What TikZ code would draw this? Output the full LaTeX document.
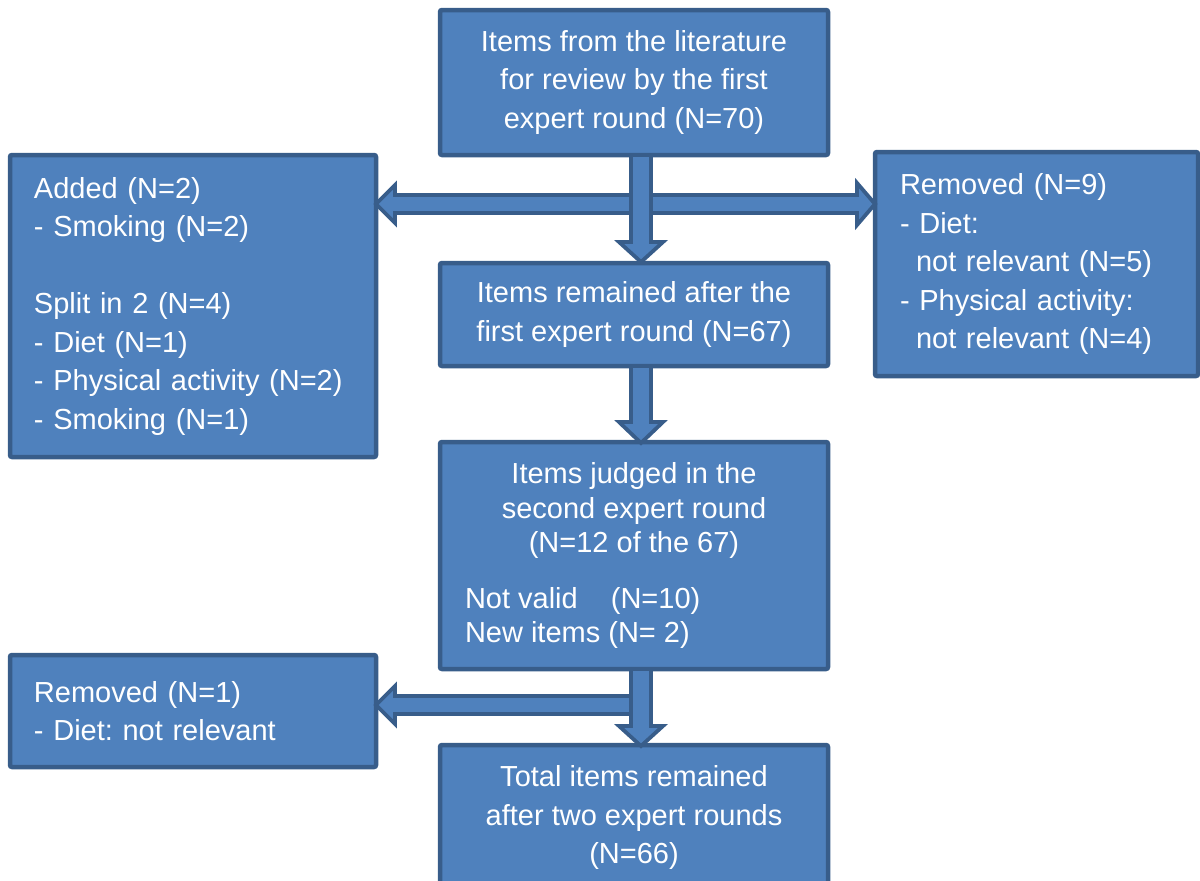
\documentclass[tikz,border=0pt]{standalone}
\usepackage{fontspec}
\setmainfont{Liberation Sans}
\usetikzlibrary{calc}
\definecolor{boxfill}{HTML}{4F81BD}
\definecolor{boxline}{HTML}{385D8A}
\frenchspacing
\begin{document}
\begin{tikzpicture}[x=1pt,y=-1pt,
  box/.style={draw=boxline, fill=boxfill, line width=4.5pt, rounded corners=2pt,
    text=white, font=\fontsize{29}{38.5}\selectfont, inner sep=0pt, outer sep=0pt, align=center},
  blockarrow/.style={draw=boxline, fill=boxfill, line width=3.8pt, line join=miter}]
\useasboundingbox (0,0) rectangle (1200,881);
\clip (0,0) rectangle (1200,881);

% boxes
\node[box, minimum width=388pt, minimum height=145pt] (lit) at (634,82.5)
  {Items from the literature\\for review by the first\\expert round (N=70)};
\node[box, minimum width=366pt, minimum height=302pt, text width=318pt, align=left] (add) at (193,306)
  {Added (N=2)\\- Smoking (N=2)\\[38.5pt]Split in 2 (N=4)\\- Diet (N=1)\\- Physical activity (N=2)\\- Smoking (N=1)};
\node[box, minimum width=323pt, minimum height=224pt, text width=273pt, align=left] (rem9) at (1036.5,264)
  {Removed (N=9)\\- Diet:\\\hspace*{16pt}not relevant (N=5)\\- Physical activity:\\\hspace*{16pt}not relevant (N=4)};
\node[box, minimum width=388pt, minimum height=103pt] (rem) at (634,314.5)
  {Items remained after the\\first expert round (N=67)};
\node[box, minimum width=388pt, minimum height=227pt, text width=338pt, align=none,
  font=\fontsize{29}{34.5}\selectfont] (judged) at (634,555.5)
  {{\centering Items judged in the\\second expert round\\(N=12 of the 67)\par}\vspace{21pt}%
   {\raggedright Not valid\hspace{25pt} (N=10)\\New items (N= 2)\par}};
\node[box, minimum width=366pt, minimum height=112pt, text width=318pt, align=left] (rem1) at (193,711)
  {Removed (N=1)\\- Diet: not relevant};
\node[box, minimum width=388pt, minimum height=145pt] (total) at (634,817.5)
  {Total items remained\\after two expert rounds\\(N=66)};

% arrow group 1
\coordinate (v1s) at ($(lit.south)+(7,0)$);
\coordinate (v1e) at ($(rem.north)+(7,-1)$);
\coordinate (h1) at ($(v1s)+(0,49)$);
\coordinate (hL) at (add.east |- h1);
\coordinate (hR) at (rem9.west |- h1);
\draw[blockarrow] (hL) -- ($(hL)+(19,-19)$) -- ($(hL)+(19,-9)$) -- ($(hR)+(-18,-9)$)
  -- ($(hR)+(-18,-21)$) -- (hR) -- ($(hR)+(-18,21)$) -- ($(hR)+(-18,9)$)
  -- ($(hL)+(19,9)$) -- ($(hL)+(19,19)$) -- cycle;
\draw[blockarrow] ($(v1s)+(-10,0)$) -- ($(v1e)+(-10,-20)$) -- ($(v1e)+(-22,-20)$) -- (v1e)
  -- ($(v1e)+(22,-20)$) -- ($(v1e)+(10,-20)$) -- ($(v1s)+(10,0)$) -- cycle;

% arrow 2
\coordinate (v2s) at ($(rem.south)+(7,0)$);
\coordinate (v2e) at ($(judged.north)+(7,1)$);
\draw[blockarrow] ($(v2s)+(-10,0)$) -- ($(v2e)+(-10,-21)$) -- ($(v2e)+(-22,-21)$) -- (v2e)
  -- ($(v2e)+(22,-21)$) -- ($(v2e)+(10,-21)$) -- ($(v2s)+(10,0)$) -- cycle;

% arrow group 3
\coordinate (v3s) at ($(judged.south)+(7,0)$);
\coordinate (v3e) at ($(total.north)+(7,1)$);
\coordinate (h3) at ($(v3s)+(0,36)$);
\coordinate (hL3) at (rem1.east |- h3);
\draw[blockarrow] (hL3) -- ($(hL3)+(19,-19)$) -- ($(hL3)+(19,-9)$) -- ($(h3)+(0,-9)$)
  -- ($(h3)+(0,9)$) -- ($(hL3)+(19,9)$) -- ($(hL3)+(19,19)$) -- cycle;
\draw[blockarrow] ($(v3s)+(-10,0)$) -- ($(v3e)+(-10,-20)$) -- ($(v3e)+(-22,-20)$) -- (v3e)
  -- ($(v3e)+(22,-20)$) -- ($(v3e)+(10,-20)$) -- ($(v3s)+(10,0)$) -- cycle;
\end{tikzpicture}
\end{document}
